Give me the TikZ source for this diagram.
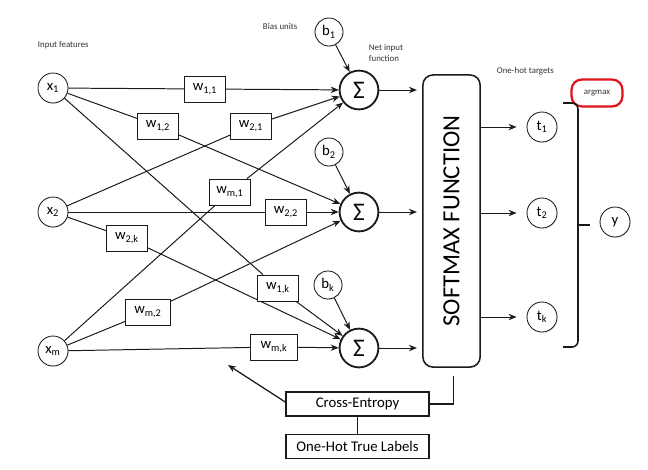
\documentclass[tikz,border=0pt]{standalone}
\usepackage{fontspec}
\setmainfont{Carlito}
\usetikzlibrary{arrows.meta,positioning,calc,backgrounds,shadows}
\definecolor{NetInk}{HTML}{1A1A1A}
\definecolor{NetLabel}{HTML}{333333}
\definecolor{NetMark}{HTML}{E0141B}
\tikzset{
  unit/.style={circle,draw=NetInk,fill=white,line width=0.6pt,minimum size=0.75cm,inner sep=0pt,
    font=\fontsize{10.5}{12}\selectfont,
    drop shadow={opacity=0.18,shadow xshift=0.5pt,shadow yshift=-0.6pt}},
  bias/.style={unit,minimum size=0.7cm},
  netsum/.style={circle,draw=NetInk,fill=white,line width=1.3pt,minimum size=0.97cm,inner sep=0pt,
    font=\fontsize{18}{20}\selectfont},
  wbox/.style={draw=NetInk,fill=white,line width=0.6pt,minimum width=1.02cm,minimum height=0.65cm,
    inner sep=1pt,font=\fontsize{10.5}{12}\selectfont,
    drop shadow={opacity=0.15,shadow xshift=0.4pt,shadow yshift=-0.5pt}},
  smbox/.style={draw=NetInk,fill=white,line width=1.1pt,rounded corners=2.5mm,minimum width=1.43cm,
    minimum height=7.3cm,inner sep=0pt,font=\fontsize{17.5}{20}\selectfont},
  lossbox/.style={draw=NetInk,fill=white,line width=1pt,minimum width=3.575cm,minimum height=0.6cm,
    inner sep=1pt,font=\fontsize{10.5}{12}\selectfont,
    drop shadow={opacity=0.2,shadow xshift=0.6pt,shadow yshift=-0.7pt}},
  tag/.style={font=\fontsize{6.3}{7.6}\selectfont,align=left,anchor=west,text=NetLabel},
  wire/.style={line width=0.7pt,NetInk},
  arr/.style={-{Stealth[length=2mm,width=1.6mm]},line width=0.7pt,NetInk}
}

\begin{document}
\begin{tikzpicture}[x=0.025cm,y=-0.025cm]
  \useasboundingbox (0,0) rectangle (648,469);

  \node[tag] at (33,45) {Input features};
  \node[tag] at (258,26) {Bias units};
  \node[tag] at (364,53) {Net input\\function};
  \node[tag] at (492,71) {One-hot targets};

  % inputs, bias units and net input sums
  \node[unit] (x1) at (53,88) {x\textsubscript{1}};
  \node[unit] (x2) at (53,212) {x\textsubscript{2}};
  \node[unit] (xm) at (53,351) {x\textsubscript{m}};
  \node[bias] (b1) at (329,32) {b\textsubscript{1}};
  \node[bias] (b2) at (329,152) {b\textsubscript{2}};
  \node[bias] (bk) at (328,285) {b\textsubscript{k}};
  \node[netsum] (s1) at (359,90) {Σ};
  \node[netsum] (s2) at (359,212) {Σ};
  \node[netsum] (sk) at (359,348) {Σ};

  % weights
  \node[wbox] (w11) at (205,89) {w\textsubscript{1,1}};
  \node[wbox] (w12) at (158,126) {w\textsubscript{1,2}};
  \node[wbox] (w21) at (251,126) {w\textsubscript{2,1}};
  \node[wbox] (wm1) at (230,192) {w\textsubscript{m,1}};
  \node[wbox] (w22) at (286,212) {w\textsubscript{2,2}};
  \node[wbox] (w2k) at (127,238) {w\textsubscript{2,k}};
  \node[wbox] (w1k) at (278,288) {w\textsubscript{1,k}};
  \node[wbox,minimum width=1.12cm] (wm2) at (148,312) {w\textsubscript{m,2}};
  \node[wbox,minimum width=1.17cm] (wmk) at (274,347) {w\textsubscript{m,k}};

  \node[smbox] (sm) at (451.5,221) {\rotatebox{90}{SOFTMAX FUNCTION}};

  \node[unit] (t1) at (542,127) {t\textsubscript{1}};
  \node[unit] (t2) at (542,213) {t\textsubscript{2}};
  \node[unit] (tk) at (542,317) {t\textsubscript{k}};
  \node[unit] (y) at (615,222) {y};
  \node[draw=NetMark,line width=1.6pt,rounded corners=2.5mm,minimum width=1.27cm,minimum height=0.67cm,
    inner sep=0pt,font=\fontsize{6.3}{7.6}\selectfont,text=NetLabel] (argmax) at (597,93) {argmax};

  \node[lossbox] (ce) at (357.5,404) {Cross-Entropy};
  \node[lossbox,below=4.2mm of ce] (oh) {One-Hot True Labels};
  \coordinate (back) at (228,365);

  \begin{scope}[on background layer]
    \foreach \src/\w/\dst in {x1/w11/s1,x1/w12/s2,x1/w1k/sk,x2/w21/s1,x2/w22/s2,x2/w2k/sk,
                              xm/wm1/s1,xm/wm2/s2,xm/wmk/sk} {
      \draw[wire] (\src) -- (\w);
      \draw[arr] (\w) -- (\dst);
    }
  \end{scope}
  \draw[arr] (b1) -- (s1);
  \draw[arr] (b2) -- (s2);
  \draw[arr] (bk) -- (sk);

  \draw[arr,shorten >=1.3mm] (s1) -- (s1 -| sm.west);
  \draw[arr,shorten >=1.3mm] (s2) -- (s2 -| sm.west);
  \draw[arr,shorten >=1.3mm] (sk) -- (sk -| sm.west);
  \draw[arr,shorten >=2.5mm] (t1 -| sm.east) -- (t1);
  \draw[arr,shorten >=2.5mm] (t2 -| sm.east) -- (t2);
  \draw[arr,shorten >=2.5mm] (tk -| sm.east) -- (tk);

  % argmax bracket
  \coordinate (brtop) at (563,103);
  \coordinate (brbot) at (563,347);
  \coordinate (brmid) at (578,225);
  \draw[line width=1.1pt,NetInk,rounded corners=1.5mm] (brtop) -- (brtop -| brmid) -- (brbot -| brmid) -- (brbot);
  \draw[line width=1.1pt,NetInk] (brmid) -- ++(12,0);

  % loss
  \draw[line width=1pt,NetInk] ([xshift=0.05cm,yshift=-2mm]sm.south) |- (ce.east);
  \draw[line width=1pt,NetInk] (ce) -- (oh);
  \draw[arr,line width=0.9pt] ([yshift=0.5mm]ce.west) -- (back);
\end{tikzpicture}
\end{document}
